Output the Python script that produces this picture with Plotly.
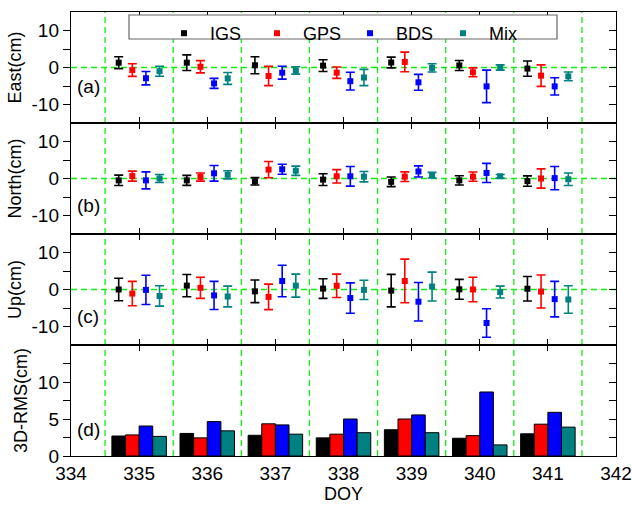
import plotly.graph_objects as go

# ---------------- data ----------------
days = [335, 336, 337, 338, 339, 340, 341]
series = ["IGS", "GPS", "BDS", "Mix"]

east_igs = [1.3, 1.3, 0.6, 0.5, 1.35, 0.55, -0.3]
east_igs_err = [1.6, 2.1, 2.3, 1.6, 1.45, 1.35, 2.05]
east_gps = [-0.7, 0.2, -2.3, -1.4, 1.5, -1.3, -2.2]
east_gps_err = [1.7, 1.65, 2.6, 1.55, 2.65, 1.2, 2.9]
east_bds = [-2.9, -4.3, -1.4, -3.7, -4.0, -5.1, -5.1]
east_bds_err = [1.8, 1.35, 1.75, 2.4, 2.15, 4.4, 2.35]
east_mix = [-1.0, -2.95, -0.8, -2.7, -0.1, 0.0, -2.4]
east_mix_err = [1.35, 1.6, 1.0, 2.2, 1.1, 0.7, 1.2]

north_igs = [-0.5, -0.5, -0.75, -0.3, -0.9, -0.5, -0.7]
north_igs_err = [1.4, 1.35, 1.0, 1.6, 1.3, 1.25, 1.4]
north_gps = [0.65, 0.4, 2.4, 0.6, 0.5, 0.5, 0.0]
north_gps_err = [1.35, 1.1, 2.2, 1.8, 1.3, 1.25, 2.6]
north_bds = [-0.5, 1.4, 2.5, 0.6, 1.9, 1.5, 0.1]
north_bds_err = [2.3, 2.1, 1.35, 2.65, 1.5, 2.6, 3.15]
north_mix = [0.0, 1.0, 2.1, 0.5, 0.9, 0.6, -0.2]
north_mix_err = [1.1, 1.1, 1.25, 1.4, 0.75, 0.5, 1.7]

up_igs = [0.0, 1.05, -0.5, 0.25, -0.3, 0.05, 0.2]
up_igs_err = [3.05, 3.0, 3.05, 2.65, 4.4, 2.7, 3.3]
up_gps = [-1.1, 0.45, -2.0, 1.0, 2.3, 0.0, -0.55]
up_gps_err = [3.3, 2.85, 3.45, 3.15, 5.9, 3.3, 4.45]
up_bds = [-0.1, -1.6, 2.3, -2.3, -3.3, -9.05, -2.6]
up_bds_err = [3.95, 3.8, 4.25, 4.1, 5.2, 3.85, 4.8]
up_mix = [-1.75, -1.9, 1.05, -0.1, 0.8, -0.7, -2.7]
up_mix_err = [2.75, 2.8, 3.1, 2.6, 3.9, 1.6, 3.7]

rms_igs = [2.7, 3.05, 2.8, 2.45, 3.55, 2.4, 3.0]
rms_gps = [2.85, 2.45, 4.35, 2.95, 5.0, 2.75, 4.3]
rms_bds = [4.05, 4.65, 4.2, 5.0, 5.55, 8.65, 5.9]
rms_mix = [2.65, 3.4, 2.95, 3.15, 3.15, 1.5, 3.9]

x_ticks = [334, 335, 336, 337, 338, 339, 340, 341, 342]
y_titles = ["East(cm)", "North(cm)", "Up(cm)", "3D-RMS(cm)"]
panel_tags = ["(a)", "(b)", "(c)", "(d)"]

# ---------------- styling ----------------
colors = ["#000000", "#FF0000", "#0000FF", "#008080"]
offsets = [-0.3, -0.1, 0.1, 0.3]
FONT = "Arial, Liberation Sans, sans-serif"
GREEN = "#11EE11"
L, R, T, B = 71, 16, 12, 51
PH = 507 - T - B
PW = 632 - L - R

panels = [
    [(east_igs, east_igs_err), (east_gps, east_gps_err), (east_bds, east_bds_err), (east_mix, east_mix_err)],
    [(north_igs, north_igs_err), (north_gps, north_gps_err), (north_bds, north_bds_err), (north_mix, north_mix_err)],
    [(up_igs, up_igs_err), (up_gps, up_gps_err), (up_bds, up_bds_err), (up_mix, up_mix_err)],
]
rms = [rms_igs, rms_gps, rms_bds, rms_mix]

def ax_id(i, kind):
    return kind + ("" if i == 0 else str(i + 1))

fig = go.Figure()

for p, panel in enumerate(panels):
    for s, (vals, errs) in enumerate(panel):
        fig.add_trace(go.Scatter(
            x=[d + offsets[s] for d in days], y=vals,
            mode="markers", name=series[s],
            marker=dict(symbol="square", size=6, color=colors[s]),
            error_y=dict(type="data", array=errs, color=colors[s], thickness=1.6, width=4.5),
            xaxis=ax_id(p, "x"), yaxis=ax_id(p, "y"),
            showlegend=(p == 0), legendgroup=series[s],
        ))

for s in range(4):
    fig.add_trace(go.Bar(
        x=days, y=rms[s], name=series[s],
        marker=dict(color=colors[s], line=dict(color="#000000", width=1)),
        xaxis="x4", yaxis="y4", showlegend=False, legendgroup=series[s],
    ))

# empty traces so the right-hand overlay axes get drawn
for i in range(4):
    fig.add_trace(go.Scatter(x=[], y=[], xaxis=ax_id(i, "x"), yaxis="y" + str(i + 5),
                             showlegend=False, hoverinfo="skip"))

layout = dict(
    width=632, height=507,
    margin=dict(l=L, r=R, t=T, b=B, autoexpand=False),
    paper_bgcolor="white", plot_bgcolor="white",
    font=dict(family=FONT, size=18, color="#000000"),
    barmode="group", bargap=0.2, bargroupgap=0,
    showlegend=True,
    legend=dict(orientation="h", x=(158 - L) / PW, y=1 - 3 / PH, xanchor="left", yanchor="top",
                bgcolor="rgba(0,0,0,0)", borderwidth=0,
                font=dict(size=18), itemwidth=42,
                entrywidth=36, entrywidthmode="pixels"),
)

half_vals = [d - 0.5 for d in days] + [days[-1] + 0.5]

for i in range(4):
    top = 1 - i * 0.25
    bot = 1 - (i + 1) * 0.25
    xa = dict(
        domain=[0, 1], anchor=ax_id(i, "y"), range=[334, 342], automargin=False,
        tickvals=x_ticks, ticks="inside", ticklen=6, tickwidth=1.2, tickcolor="#000",
        showline=True, linecolor="#000", linewidth=1.4, mirror="ticks",
        showgrid=False, zeroline=False, showticklabels=(i == 3),
        tickfont=dict(size=19),
    )
    if i > 0:
        xa["matches"] = "x"
    if i == 3:
        xa["title"] = dict(text="DOY", font=dict(size=18), standoff=4)
    if i < 3:
        rng = [-15, 15]
        tv = [-10, -5, 0, 5, 10]
        tt = ["-10", "", "0", "", "10"]
    else:
        rng = [0, 15]
        tv = [0, 2.5, 5, 7.5, 10, 12.5]
        tt = ["0", "", "5", "", "10", ""]
    ya = dict(
        domain=[bot, top], anchor=ax_id(i, "x"), range=rng, automargin=False,
        tickvals=tv, ticktext=tt, ticks="outside", ticklen=7, tickwidth=1.2, tickcolor="#000",
        showline=True, linecolor="#000", linewidth=1.4, mirror=False,
        showgrid=False, zeroline=False, tickfont=dict(size=19),
        title=dict(text=y_titles[i], font=dict(size=18), standoff=5),
    )
    yr = dict(
        overlaying=ax_id(i, "y"), anchor=ax_id(i, "x"), side="right", range=rng, automargin=False,
        tickvals=tv, ticks="inside", ticklen=7, tickwidth=1.2, tickcolor="#000",
        showticklabels=False, showline=True, linecolor="#000", linewidth=1.4,
        showgrid=False, zeroline=False,
    )
    layout["xaxis" + ("" if i == 0 else str(i + 1))] = xa
    layout["yaxis" + ("" if i == 0 else str(i + 1))] = ya
    layout["yaxis" + str(i + 5)] = yr

fig.update_layout(**layout)

dash_line = dict(color=GREEN, width=1.3, dash="6px,4px")

# dashed day-boundary lines in all panels
for i in range(4):
    for hv in half_vals:
        fig.add_shape(type="line", xref=ax_id(i, "x"), yref=ax_id(i, "y") + " domain",
                      x0=hv, x1=hv, y0=0, y1=1, layer="below", line=dash_line)

# dashed zero lines in panels a-c
for i in range(3):
    fig.add_shape(type="line", xref=ax_id(i, "x") + " domain", yref=ax_id(i, "y"),
                  x0=0, x1=1, y0=0, y1=0, layer="below", line=dash_line)

# panel tags
tag_y = [0.327, 0.26, 0.257, 0.24]
for i in range(4):
    fig.add_annotation(text=panel_tags[i], xref=ax_id(i, "x") + " domain", yref=ax_id(i, "y") + " domain",
                       x=0.008, y=tag_y[i], xanchor="left", yanchor="middle", showarrow=False,
                       font=dict(size=19))

# legend frame
fig.add_shape(type="rect", xref="paper", yref="paper",
              x0=(129 - L) / PW, x1=(557 - L) / PW,
              y0=(507 - B - 39) / PH, y1=(507 - B - 15) / PH,
              layer="above", fillcolor="white", line=dict(color="#666666", width=1.2))

fig.write_html("out.html", config={"displayModeBar": False},
               post_script="document.body.style.margin='0';document.body.style.overflow='hidden';")
